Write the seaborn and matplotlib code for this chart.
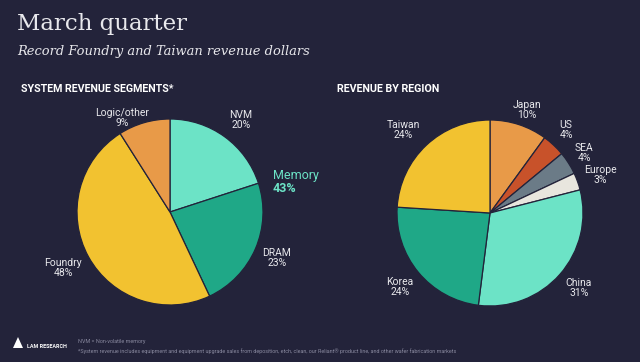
import matplotlib
matplotlib.use('Agg')
import matplotlib.pyplot as plt
import matplotlib.patches as patches
import seaborn as sns

# Data
seg_labels = ['NVM', 'DRAM', 'Foundry', 'Logic/other']
seg_values = [20, 23, 48, 9]
seg_colors = ['#6ce3c6', '#1fa887', '#f2c230', '#e89a48']

reg_labels = ['Japan', 'US', 'SEA', 'Europe', 'China', 'Korea', 'Taiwan']
reg_values = [10, 4, 4, 3, 31, 24, 24]
reg_colors = ['#e89a48', '#c8522a', '#6b7b87', '#e8e6de', '#6ce3c6', '#1fa887', '#f2c230']

memory_total = 43

bg = '#23233a'
txt = '#e8e8ec'

sns.set_theme(style='white')
plt.rcParams['font.family'] = ['Roboto', 'DejaVu Sans']

fig = plt.figure(figsize=(6.4, 3.62), dpi=100, facecolor=bg)
W, H = 640, 362
R = 93


def pie_axes(cx, cy):
    ax = fig.add_axes([(cx - R) / W, (H - cy - R) / H, 2 * R / W, 2 * R / H])
    ax.set_facecolor('none')
    return ax


def draw_pie(ax, values, colors):
    ax.pie(values, colors=colors, startangle=90, counterclock=False, radius=1,
           wedgeprops=dict(edgecolor=bg, linewidth=0.9))
    ax.set_xlim(-1, 1)
    ax.set_ylim(-1, 1)
    ax.axis('off')


def put_labels(ax, cx, cy, labels, values, pix):
    for lab, val, (px, py) in zip(labels, values, pix):
        ax.text((px - cx) / R, (cy - py) / R, f'{lab}\n{val}%', ha='center', va='center',
                fontsize=7.5, color=txt, linespacing=1.05, clip_on=False)


# left pie
lcx, lcy = 170, 212
axl = pie_axes(lcx, lcy)
draw_pie(axl, seg_values, seg_colors)
put_labels(axl, lcx, lcy, seg_labels, seg_values,
           [(241, 120), (277, 258), (63, 268), (122, 118)])
axl.text((273 - lcx) / R, (lcy - 176) / R, 'Memory', ha='left', va='center',
         fontsize=9, color=seg_colors[0], clip_on=False)
axl.text((273 - lcx) / R, (lcy - 189) / R, f'{memory_total}%', ha='left', va='center',
         fontsize=9, color=seg_colors[0], fontweight='bold', clip_on=False)

# right pie
rcx, rcy = 490, 213
axr = pie_axes(rcx, rcy)
draw_pie(axr, reg_values, reg_colors)
put_labels(axr, rcx, rcy, reg_labels, reg_values,
           [(527, 110), (566, 130), (584, 153), (600, 175), (579, 288), (400, 287), (403, 130)])

# titles
fig.text(17 / W, 1 - 24 / H, 'March quarter', fontsize=16.5, color=txt,
         family='DejaVu Serif', va='center', ha='left')
fig.text(17 / W, 1 - 51 / H, 'Record Foundry and Taiwan revenue dollars', fontsize=9.4,
         color=txt, family='DejaVu Serif', style='italic', va='center', ha='left')
fig.text(21 / W, 1 - 89 / H, 'SYSTEM REVENUE SEGMENTS*', fontsize=7.7, color='white',
         fontweight='bold', va='center', ha='left')
fig.text(337 / W, 1 - 89 / H, 'REVENUE BY REGION', fontsize=7.7, color='white',
         fontweight='bold', va='center', ha='left')

# footer
logo = patches.Polygon([(13 / W, 1 - 348 / H), (18 / W, 1 - 337 / H), (23 / W, 1 - 348 / H)],
                       closed=True, transform=fig.transFigure, facecolor='white', edgecolor='none')
fig.patches.append(logo)
fig.text(27 / W, 1 - 347 / H, 'LAM RESEARCH', fontsize=3.9, color='white',
         fontweight='bold', va='center', ha='left')
fig.text(78 / W, 1 - 341 / H, 'NVM = Non-volatile memory', fontsize=3.9, color='#8a8aa0',
         va='center', ha='left')
fig.text(78 / W, 1 - 351 / H,
         '*System revenue includes equipment and equipment upgrade sales from deposition, etch, clean, '
         'our Reliant\u00ae product line, and other wafer fabrication markets',
         fontsize=3.9, color='#8a8aa0', va='center', ha='left')

fig.savefig('out.png', dpi=100, facecolor=bg)
